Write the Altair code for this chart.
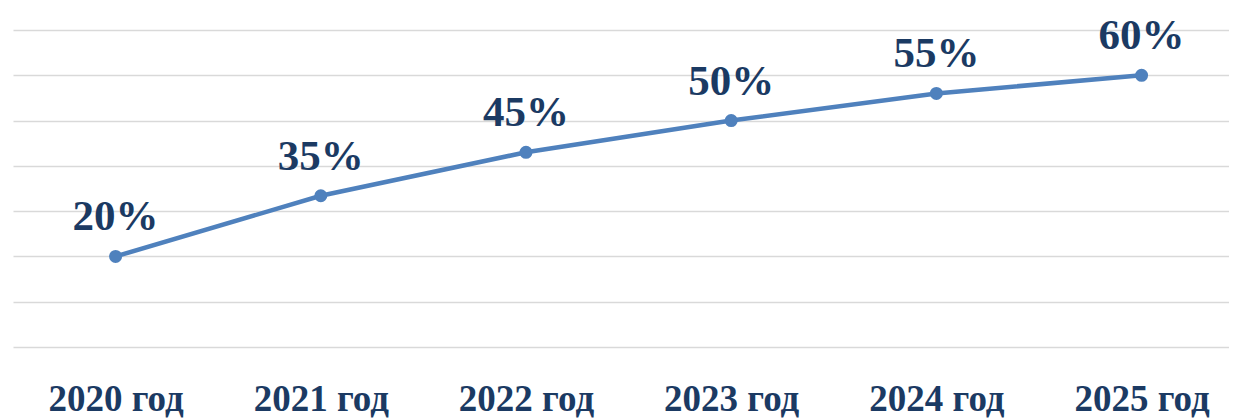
import altair as alt
import pandas as pd

years = ["2020 год", "2021 год", "2022 год", "2023 год", "2024 год", "2025 год"]
values = [20, 33.4, 43, 50, 56, 60]
labels = ["20%", "35%", "45%", "50%", "55%", "60%"]

df = pd.DataFrame({
    "idx": list(range(len(years))),
    "year": years,
    "value": values,
    "label": labels,
})

NAVY = "#1B3A63"
BLUE = "#4F81BD"
FONT = "Liberation Serif"

year_expr = "[" + ",".join("'" + y_ + "'" for y_ in years) + "][datum.value]"

x = alt.X(
    "idx:Q",
    scale=alt.Scale(domain=[-0.5, 5.426], nice=False, zero=False),
    axis=alt.Axis(
        title=None, domain=False, ticks=False, grid=False, labelAngle=0,
        values=list(range(len(years))), labelExpr=year_expr,
        labelFont=FONT, labelFontSize=37, labelFontWeight="bold",
        labelColor=NAVY, labelPadding=34, labelFlush=False, labelOverlap=False,
    ),
)
y = alt.Y(
    "value:Q",
    scale=alt.Scale(domain=[0, 70], nice=False, zero=True),
    axis=alt.Axis(
        title=None, labels=False, ticks=False, domain=False,
        values=[0, 10, 20, 30, 40, 50, 60, 70],
        gridColor="#D9D9D9", gridWidth=1.6,
    ),
)

base = alt.Chart(df)
line = base.mark_line(color=BLUE, strokeWidth=4.5).encode(x=x, y=y)
pts = base.mark_circle(color=BLUE, size=170, opacity=1).encode(x=x, y=y)
txt = base.mark_text(
    font=FONT, fontSize=43, fontWeight="bold", color=NAVY,
    dy=-26, baseline="alphabetic", align="center",
).encode(x=x, y=y, text="label:N")

chart = (
    alt.layer(line, pts, txt)
    .properties(
        width=1216, height=317,
        autosize=alt.AutoSizeParams(type="none"),
        padding={"left": 5, "top": 22, "right": 0, "bottom": 74},
    )
    .configure_view(stroke=None)
)

chart.save("out.html", embed_options={"renderer": "svg", "actions": False})
